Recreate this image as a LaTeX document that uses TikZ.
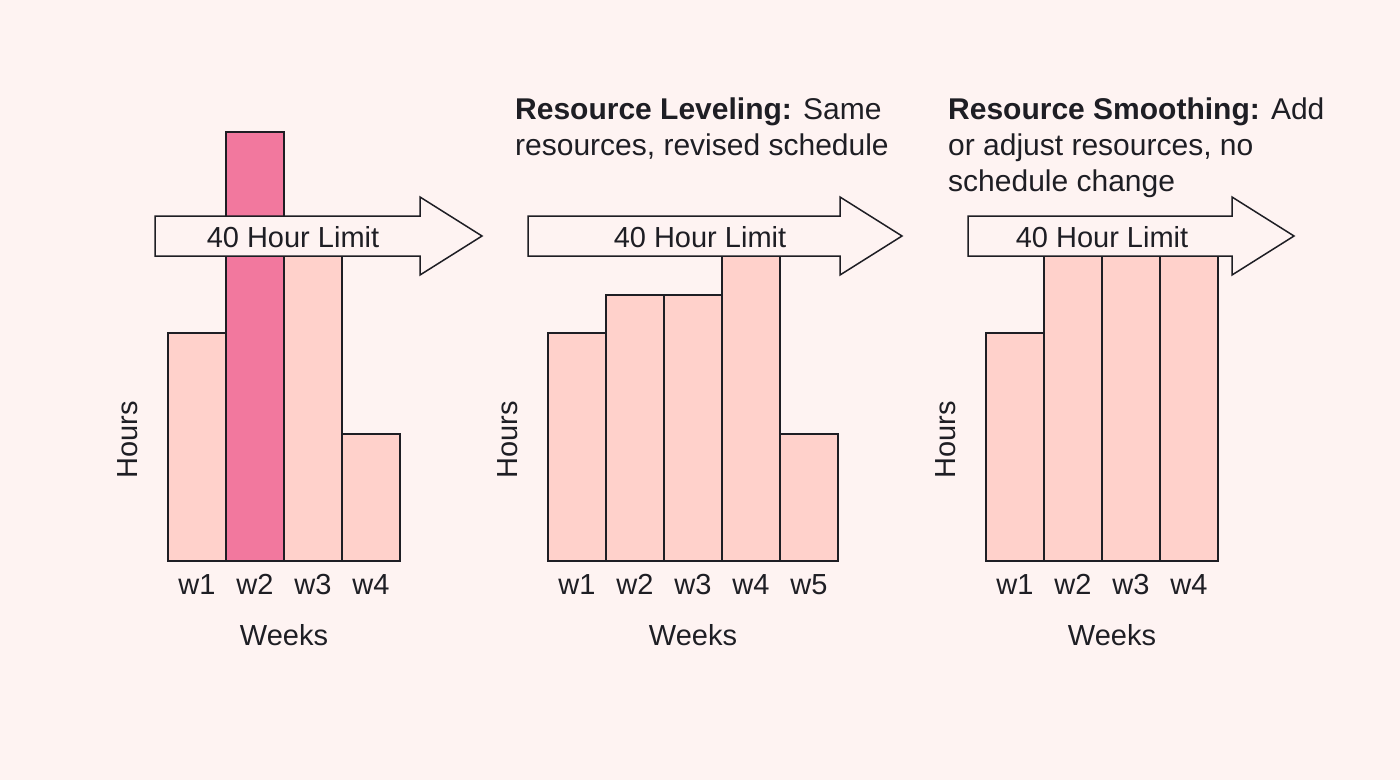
\documentclass[tikz,border=0pt]{standalone}
\usepackage{fontspec}
\setmainfont{Liberation Sans}
\definecolor{bgpink}{HTML}{FEF3F2}
\definecolor{barpink}{HTML}{FFD1CB}
\definecolor{hotpink}{HTML}{F2789E}
\definecolor{ink}{HTML}{1E1E24}
\tikzset{
  bar/.style={draw=ink, line width=1.5pt, fill=barpink},
  overbar/.style={bar, fill=hotpink},
  limit/.style={draw=ink, line width=1.5pt, fill=bgpink, line join=miter},
  lbl/.style={font=\fontsize{29}{34}\selectfont, text=ink},
  wk/.style={lbl, anchor=base},
  ttl/.style={font=\fontsize{30}{36}\selectfont, text=ink, anchor=north west, align=left, inner sep=0pt}
}
\newcommand{\limitarrow}[3]{% left, right end of body, tip
  \draw[limit] (#1,216) -- (#2,216) -- (#2,197) -- (#3,236) -- (#2,275) -- (#2,256) -- (#1,256) -- cycle;}
\begin{document}
\begin{tikzpicture}[x=1pt,y=-1pt]
  \useasboundingbox[fill=bgpink] (0,0) rectangle (1400,780);

  % chart 1
  \foreach \x/\top/\s in {168/333/bar,226/132/overbar,284/256/bar,342/434/bar}
    \draw[\s] (\x,561) rectangle (\x+58,\top);
  \limitarrow{155}{420}{482}
  \node[lbl] (lim1) at (293,237) {40 Hour Limit};
  \foreach \x/\w in {197/w1,255/w2,313/w3,371/w4}
    \node[wk] (a\w) at (\x,594) {\w};
  \node[lbl] (weeks1) at (284,635) {Weeks};
  \node[lbl, rotate=90] (hours1) at (128,440) {Hours};

  % chart 2
  \foreach \x/\top in {548/333,606/295,664/295,722/256,780/434}
    \draw[bar] (\x,561) rectangle (\x+58,\top);
  \limitarrow{528}{840}{902}
  \node[lbl] (lim2) at (700,237) {40 Hour Limit};
  \foreach \x/\w in {577/w1,635/w2,693/w3,751/w4,809/w5}
    \node[wk] (b\w) at (\x,594) {\w};
  \node[lbl] (weeks2) at (693,635) {Weeks};
  \node[lbl, rotate=90] (hours2) at (508,440) {Hours};
  \node[ttl] (title2) at (515,98) {\textbf{Resource Leveling:} Same\\resources, revised schedule};

  % chart 3
  \foreach \x/\top in {986/333,1044/256,1102/256,1160/256}
    \draw[bar] (\x,561) rectangle (\x+58,\top);
  \limitarrow{968}{1232}{1294}
  \node[lbl] (lim3) at (1102,237) {40 Hour Limit};
  \foreach \x/\w in {1015/w1,1073/w2,1131/w3,1189/w4}
    \node[wk] (c\w) at (\x,594) {\w};
  \node[lbl] (weeks3) at (1112,635) {Weeks};
  \node[lbl, rotate=90] (hours3) at (946,440) {Hours};
  \node[ttl] (title3) at (948,98) {\textbf{Resource Smoothing:} Add\\or adjust resources, no\\schedule change};
\end{tikzpicture}
\end{document}
